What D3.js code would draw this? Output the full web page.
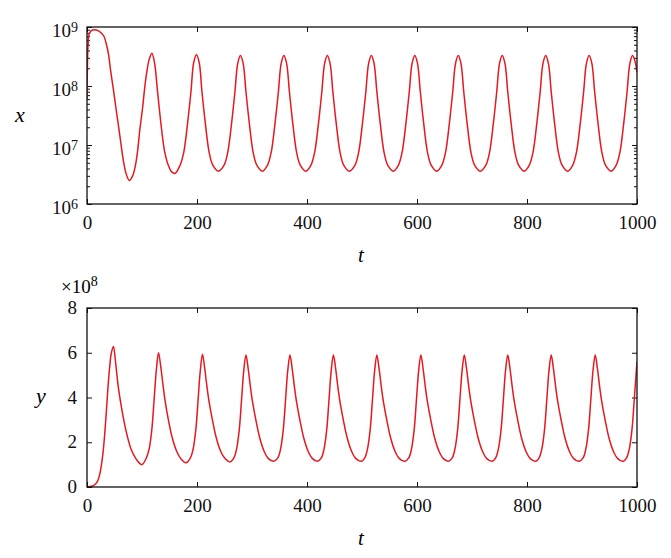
<!DOCTYPE html>
<html>
<head>
<meta charset="utf-8">
<script src="https://cdn.jsdelivr.net/npm/d3@7"></script>
<style>
	body { margin: 0; background: #fff; }
	svg { display: block; }
	svg text { font-family: "Liberation Serif", Tinos, "Times New Roman", "DejaVu Serif", serif !important; }
</style>
</head>
<body>
<script>
// time ticks shared by both panels
const tTicks = [0, 200, 400, 600, 800, 1000]
const xDecades = [1e6, 1e7, 1e8, 1e9]
const yTicks = [0, 2, 4, 6, 8]

// x(t), log scale
const xT = [
	0, 1, 2, 4, 8, 14, 20, 26, 31, 35, 39, 43, 48, 53, 57, 62, 66, 71, 77, 83, 88, 92, 96, 101, 105, 109, 113, 118, 123, 128, 134, 141, 148, 154, 160,
	169, 176, 183, 189, 194, 199, 204, 209, 215, 222, 229, 239,
	249, 256, 263, 269, 274, 279, 284, 289, 295, 302, 309, 319,
	328, 335, 342, 348, 353, 358, 363, 368, 374, 381, 388, 398,
	407, 414, 421, 427, 432, 437, 442, 447, 453, 460, 467, 477,
	487, 494, 501, 507, 512, 517, 522, 527, 533, 540, 547, 557,
	566, 573, 580, 586, 591, 596, 601, 606, 612, 619, 626, 636,
	645, 652, 659, 665, 670, 675, 680, 685, 691, 698, 705, 715,
	725, 732, 739, 745, 750, 755, 760, 765, 771, 778, 785, 795,
	804, 811, 818, 824, 829, 834, 839, 844, 850, 857, 864, 874,
	883, 890, 897, 903, 908, 913, 918, 923, 929, 936, 943, 953,
	962, 969, 976, 982, 987, 992, 997, 1000,
]
const xV = [
	6.0e7, 2.8e8, 5.0e8, 7.6e8, 8.7e8, 9.0e8, 8.7e8, 7.9e8, 6.9e8, 5.2e8, 3.5e8, 1.8e8, 8.7e7, 4.0e7, 2.2e7, 1.0e7, 5.5e6, 3.3e6, 2.5e6, 3.0e6, 4.5e6, 7.9e6, 1.8e7, 4.2e7, 9.5e7, 1.8e8, 2.8e8, 3.6e8, 2.4e8, 8.5e7, 2.5e7, 7.9e6, 4.5e6, 3.5e6, 3.3e6,
	4.5e6, 7.6e6, 2.4e7, 8.0e7, 2.5e8, 3.4e8, 2.5e8, 8.0e7, 2.4e7, 7.6e6, 4.5e6, 3.6e6,
	4.5e6, 7.6e6, 2.4e7, 8.0e7, 2.4e8, 3.3e8, 2.4e8, 8.0e7, 2.4e7, 7.6e6, 4.5e6, 3.6e6,
	4.5e6, 7.6e6, 2.4e7, 8.0e7, 2.4e8, 3.3e8, 2.4e8, 8.0e7, 2.4e7, 7.6e6, 4.5e6, 3.6e6,
	4.5e6, 7.6e6, 2.4e7, 8.0e7, 2.4e8, 3.3e8, 2.4e8, 8.0e7, 2.4e7, 7.6e6, 4.5e6, 3.6e6,
	4.5e6, 7.6e6, 2.4e7, 8.0e7, 2.4e8, 3.3e8, 2.4e8, 8.0e7, 2.4e7, 7.6e6, 4.5e6, 3.6e6,
	4.5e6, 7.6e6, 2.4e7, 8.0e7, 2.4e8, 3.3e8, 2.4e8, 8.0e7, 2.4e7, 7.6e6, 4.5e6, 3.6e6,
	4.5e6, 7.6e6, 2.4e7, 8.0e7, 2.4e8, 3.3e8, 2.4e8, 8.0e7, 2.4e7, 7.6e6, 4.5e6, 3.6e6,
	4.5e6, 7.6e6, 2.4e7, 8.0e7, 2.4e8, 3.3e8, 2.4e8, 8.0e7, 2.4e7, 7.6e6, 4.5e6, 3.6e6,
	4.5e6, 7.6e6, 2.4e7, 8.0e7, 2.4e8, 3.3e8, 2.4e8, 8.0e7, 2.4e7, 7.6e6, 4.5e6, 3.6e6,
	4.5e6, 7.6e6, 2.4e7, 8.0e7, 2.4e8, 3.3e8, 2.4e8, 8.0e7, 2.4e7, 7.6e6, 4.5e6, 3.6e6,
	4.5e6, 7.6e6, 2.4e7, 8.0e7, 2.4e8, 3.3e8, 2.5e8, 1.7e8,
]

// y(t) in units of 1e8
const yT = [
	0, 8, 14, 19, 23, 26, 29, 32, 35, 38, 41, 44, 48, 51, 54, 57, 61, 66, 73, 80, 88, 94, 100,
	108, 113, 118, 122, 126, 130, 134, 138, 142, 148, 155, 163, 171, 180,
	188, 193, 198, 202, 206, 210, 214, 218, 222, 228, 235, 243, 251, 260,
	267, 272, 277, 281, 285, 289, 293, 297, 301, 307, 314, 322, 330, 339,
	347, 352, 357, 361, 365, 369, 373, 377, 381, 387, 394, 402, 410, 419,
	426, 431, 436, 440, 444, 448, 452, 456, 460, 466, 473, 481, 489, 499,
	505, 510, 515, 519, 523, 527, 531, 535, 539, 545, 552, 560, 568, 578,
	585, 590, 595, 599, 603, 607, 611, 615, 619, 625, 632, 640, 648, 657,
	664, 669, 674, 678, 682, 686, 690, 694, 698, 704, 711, 719, 727, 737,
	743, 748, 753, 757, 761, 765, 769, 773, 777, 783, 790, 798, 806, 816,
	822, 827, 832, 836, 840, 844, 848, 852, 856, 862, 869, 877, 885, 895,
	902, 907, 912, 916, 920, 924, 928, 932, 936, 942, 949, 957, 965, 975,
	981, 986, 991, 995, 1000,
]
const yV = [
	0, 0.03, 0.1, 0.25, 0.55, 0.95, 1.5, 2.3, 3.3, 4.4, 5.3, 5.95, 6.28, 5.8, 5.1, 4.45, 3.8, 3.1, 2.3, 1.7, 1.3, 1.1, 1.0,
	1.3, 1.7, 2.6, 3.9, 5.2, 6.0, 5.4, 4.6, 3.85, 3.0, 2.2, 1.6, 1.25, 1.08,
	1.3, 1.7, 2.6, 3.9, 5.2, 5.93, 5.3, 4.5, 3.8, 3.0, 2.2, 1.6, 1.27, 1.12,
	1.3, 1.7, 2.6, 3.9, 5.2, 5.9, 5.3, 4.5, 3.8, 3.0, 2.2, 1.6, 1.27, 1.15,
	1.3, 1.7, 2.6, 3.9, 5.2, 5.9, 5.3, 4.5, 3.8, 3.0, 2.2, 1.6, 1.27, 1.15,
	1.3, 1.7, 2.6, 3.9, 5.2, 5.9, 5.3, 4.5, 3.8, 3.0, 2.2, 1.6, 1.27, 1.15,
	1.3, 1.7, 2.6, 3.9, 5.2, 5.9, 5.3, 4.5, 3.8, 3.0, 2.2, 1.6, 1.27, 1.15,
	1.3, 1.7, 2.6, 3.9, 5.2, 5.9, 5.3, 4.5, 3.8, 3.0, 2.2, 1.6, 1.27, 1.15,
	1.3, 1.7, 2.6, 3.9, 5.2, 5.9, 5.3, 4.5, 3.8, 3.0, 2.2, 1.6, 1.27, 1.15,
	1.3, 1.7, 2.6, 3.9, 5.2, 5.9, 5.3, 4.5, 3.8, 3.0, 2.2, 1.6, 1.27, 1.15,
	1.3, 1.7, 2.6, 3.9, 5.2, 5.9, 5.3, 4.5, 3.8, 3.0, 2.2, 1.6, 1.27, 1.15,
	1.3, 1.7, 2.6, 3.9, 5.2, 5.9, 5.3, 4.5, 3.8, 3.0, 2.2, 1.6, 1.27, 1.15,
	1.3, 1.7, 2.6, 3.9, 5.6,
]

const W = 671
const H = 558
const left = 87
const right = 637
const red = '#e5191f'

const svg = d3.select('body').append('svg')
	.attr('width', W)
	.attr('height', H)
svg.append('rect').attr('width', W).attr('height', H).attr('fill', '#fff')

const t = d3.scaleLinear().domain([0, 1000]).range([left, right])

const panel = (top, bottom, name) => {
	const g = svg.append('g')
	g.append('clipPath')
		.attr('id', 'clip-' + name)
		.append('rect')
		.attr('x', left)
		.attr('y', top)
		.attr('width', right - left)
		.attr('height', bottom - top)

	const ax = (axis, tr) => {
		const a = g.append('g').attr('transform', tr).call(axis)
		a.attr('font-family', null).attr('font-size', 19)
		a.select('.domain').remove()
		a.selectAll('line').attr('stroke', '#111').attr('stroke-width', 1)
		a.selectAll('text').attr('fill', '#111')
		return a
	}
	// time axis, ticks point inward on both sides
	ax(d3.axisBottom(t).tickValues(tTicks).tickSize(-5).tickPadding(12).tickFormat(d3.format('d')), `translate(0,${bottom})`)
	ax(d3.axisTop(t).tickValues(tTicks).tickSize(-5).tickFormat(''), `translate(0,${top})`)

	g.append('text')
		.attr('x', (left + right) / 2 - 1)
		.attr('y', bottom + 58)
		.attr('text-anchor', 'middle')
		.attr('font-size', 21)
		.attr('font-style', 'italic')
		.text('t')
	return { g, ax }
}

// upper panel: x on log axis
{
	const top = 27
	const bottom = 204
	const y = d3.scaleLog().domain([1e6, 1e9]).range([bottom, top])
	const { g, ax } = panel(top, bottom, 'x')
	const minors = y.ticks().filter(v => !xDecades.includes(v))
	ax(d3.axisLeft(y).tickValues(minors).tickSize(-3).tickFormat(''), `translate(${left},0)`)
	ax(d3.axisRight(y).tickValues(minors).tickSize(-3).tickFormat(''), `translate(${right},0)`)
	ax(d3.axisRight(y).tickValues(xDecades).tickSize(-5).tickFormat(''), `translate(${right},0)`)
	const la = ax(d3.axisLeft(y).tickValues(xDecades).tickSize(-5).tickPadding(9).tickFormat(''), `translate(${left},0)`)
	la.selectAll('.tick text')
		.attr('dy', null)
		.attr('y', 9)
		.each(function (d) {
			const s = d3.select(this)
			s.append('tspan').text('10')
			s.append('tspan')
				.attr('font-size', 14)
				.attr('dy', -5)
				.text(Math.round(Math.log10(d)))
		})

	g.append('path')
		.datum(d3.zip(xT, xV))
		.attr('clip-path', 'url(#clip-x)')
		.attr('fill', 'none')
		.attr('stroke', red)
		.attr('stroke-width', 1.5)
		.attr('d', d3.line().x(d => t(d[0])).y(d => y(d[1])).curve(d3.curveCatmullRom.alpha(0.5)))

	g.append('rect')
		.attr('x', left).attr('y', top)
		.attr('width', right - left).attr('height', bottom - top)
		.attr('fill', 'none').attr('stroke', '#111').attr('stroke-width', 1.3)

	g.append('text')
		.attr('x', 20)
		.attr('y', 122)
		.attr('text-anchor', 'middle')
		.attr('font-size', 22)
		.attr('font-style', 'italic')
		.text('x')
}

// lower panel: y on linear axis, scaled by 1e8
{
	const top = 308
	const bottom = 487
	const y = d3.scaleLinear().domain([0, 8]).range([bottom, top])
	const { g, ax } = panel(top, bottom, 'y')
	ax(d3.axisRight(y).tickValues(yTicks).tickSize(-5).tickFormat(''), `translate(${right},0)`)
	const la = ax(d3.axisLeft(y).tickValues(yTicks).tickSize(-5).tickPadding(10), `translate(${left},0)`)
	la.selectAll('.tick text').attr('dy', '0.3em')

	g.append('path')
		.datum(d3.zip(yT, yV))
		.attr('clip-path', 'url(#clip-y)')
		.attr('fill', 'none')
		.attr('stroke', red)
		.attr('stroke-width', 1.5)
		.attr('d', d3.line().x(d => t(d[0])).y(d => y(d[1])).curve(d3.curveCatmullRom.alpha(0.5)))

	g.append('rect')
		.attr('x', left).attr('y', top)
		.attr('width', right - left).attr('height', bottom - top)
		.attr('fill', 'none').attr('stroke', '#111').attr('stroke-width', 1.3)

	const mult = g.append('text').attr('x', 61).attr('y', 293).attr('font-size', 19)
	mult.append('tspan').text('\u00d710')
	mult.append('tspan').attr('font-size', 14).attr('dy', -7).text('8')

	g.append('text')
		.attr('x', 41)
		.attr('y', 403)
		.attr('text-anchor', 'middle')
		.attr('font-size', 22)
		.attr('font-style', 'italic')
		.text('y')
}
</script>
</body>
</html>
